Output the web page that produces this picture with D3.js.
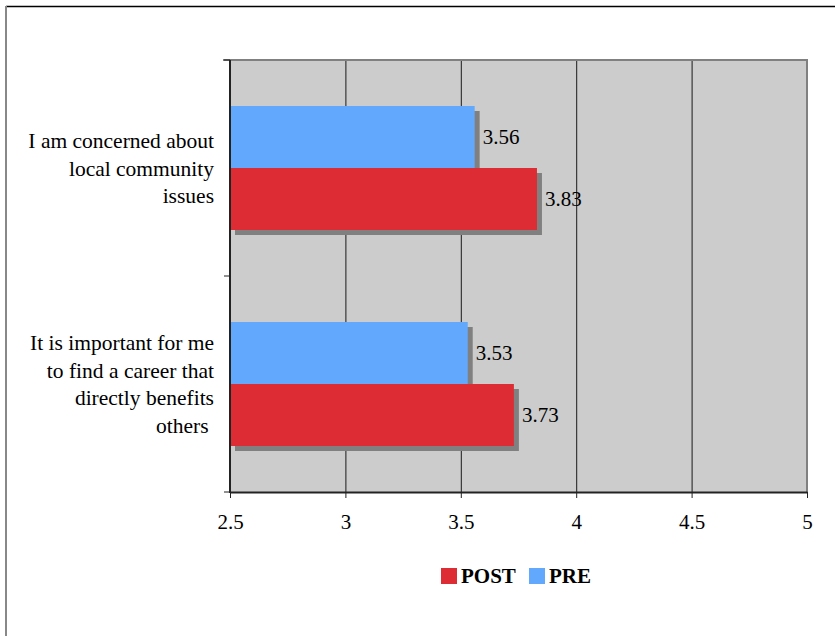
<!DOCTYPE html>
<html>
<head>
<meta charset="utf-8">
<script src="https://cdn.jsdelivr.net/npm/d3@7/dist/d3.min.js"></script>
</head>
<body style="margin:0">
<svg id="chart" width="835" height="636"></svg>
<script>
// Statement labels, one entry per line of text
const categories = [
  ["I am concerned about", "local community", "issues"],
  ["It is important for me", "to find a career that", "directly benefits", "others "]
];
const seriesNames = ["PRE", "POST"];
const preValues = [3.56, 3.53];
const postValues = [3.83, 3.73];
const xTicks = [2.5, 3, 3.5, 4, 4.5, 5];
const legendOrder = ["POST", "PRE"];

const colors = { PRE: "#62a9fd", POST: "#dd2c33" };
const seriesValues = { PRE: preValues, POST: postValues };
const serif = '"Liberation Serif"';

const svg = d3.select("#chart");

// Outer frame edges
svg.append("line").attr("x1", 6).attr("x2", 835).attr("y1", 6.5).attr("y2", 6.5)
  .attr("stroke", "#000").attr("stroke-width", 1.5);
svg.append("line").attr("x1", 6).attr("x2", 6).attr("y1", 6).attr("y2", 636)
  .attr("stroke", "#888").attr("stroke-width", 2);

const plot = { left: 230, right: 807, top: 60, bottom: 492 };

const x = d3.scaleLinear().domain([2.5, 5]).range([plot.left, plot.right]);
const y = d3.scaleBand().domain(d3.range(categories.length)).range([plot.top, plot.bottom]);
// Two bars per category, centred in the band
const barH = 62;
const ySeries = d3.scaleBand().domain(seriesNames)
  .range([(y.bandwidth() - 2 * barH) / 2, (y.bandwidth() + 2 * barH) / 2]);

// Plot background
svg.append("rect")
  .attr("x", plot.left).attr("y", plot.top)
  .attr("width", plot.right - plot.left).attr("height", plot.bottom - plot.top)
  .attr("fill", "#cccccc");

// Vertical gridlines
svg.append("g").selectAll("line")
  .data(xTicks.filter(t => t > 2.5 && t < 5))
  .join("line")
  .attr("x1", d => x(d) + 0.5).attr("x2", d => x(d) + 0.5)
  .attr("y1", plot.top).attr("y2", plot.bottom)
  .attr("stroke", "#1a1a1a").attr("stroke-width", 1);

// Top and right plot edges
svg.append("line").attr("x1", plot.left - 7).attr("x2", plot.right + 1)
  .attr("y1", plot.top).attr("y2", plot.top)
  .attr("stroke", "#808080").attr("stroke-width", 2);
svg.append("line").attr("x1", plot.right).attr("x2", plot.right)
  .attr("y1", plot.top).attr("y2", plot.bottom)
  .attr("stroke", "#808080").attr("stroke-width", 2);

// Bars with drop shadows
const barData = [];
categories.forEach((c, i) => {
  seriesNames.forEach(s => barData.push({ i, s, v: seriesValues[s][i] }));
});

const shadowOffset = 5;
svg.append("g").selectAll("rect")
  .data(barData)
  .join("rect")
  .attr("x", x(2.5) + shadowOffset)
  .attr("y", d => y(d.i) + ySeries(d.s) + shadowOffset)
  .attr("width", d => x(d.v) - x(2.5))
  .attr("height", ySeries.bandwidth())
  .attr("fill", "#808080");

svg.append("g").selectAll("rect")
  .data(barData)
  .join("rect")
  .attr("x", x(2.5))
  .attr("y", d => y(d.i) + ySeries(d.s))
  .attr("width", d => x(d.v) - x(2.5))
  .attr("height", ySeries.bandwidth())
  .attr("fill", d => colors[d.s]);

// Value labels
svg.append("g").selectAll("text")
  .data(barData)
  .join("text")
  .attr("x", d => x(d.v) + 8)
  .attr("y", d => y(d.i) + ySeries(d.s) + ySeries.bandwidth() / 2)
  .attr("dy", "0.35em")
  .style("font-family", serif)
  .style("font-size", "21px")
  .style("fill", "#000")
  .text(d => d.v.toFixed(2));

// X axis
const xAxis = d3.axisBottom(x).tickValues(xTicks).tickSize(6).tickSizeOuter(0)
  .tickFormat(d => String(d));
const gx = svg.append("g").attr("transform", `translate(0,${plot.bottom})`).call(xAxis);
gx.attr("font-family", null).attr("font-size", null);
gx.select(".domain").attr("stroke", "#222").attr("stroke-width", 2);
gx.selectAll(".tick line").attr("stroke", "#222");
gx.selectAll(".tick text")
  .style("font-family", serif)
  .style("font-size", "21px").style("fill", "#000").attr("dy", "0").attr("y", 37);

// Y axis: left edge with ticks at band boundaries
svg.append("line").attr("x1", plot.left).attr("x2", plot.left)
  .attr("y1", plot.top).attr("y2", plot.bottom + 1)
  .attr("stroke", "#222").attr("stroke-width", 2);
const boundaries = d3.range(categories.length + 1).map(i => plot.top + i * y.step());
svg.append("g").selectAll("line")
  .data(boundaries)
  .join("line")
  .attr("x1", plot.left - 6).attr("x2", plot.left)
  .attr("y1", d => d).attr("y2", d => d)
  .attr("stroke", "#222").attr("stroke-width", 1);

// Category labels
const lineH = 27.5;
const catG = svg.append("g");
categories.forEach((lines, i) => {
  const cy = y(i) + y.bandwidth() / 2;
  const t = catG.append("text")
    .attr("x", 214)
    .attr("text-anchor", "end")
    .style("font-family", serif)
    .style("font-size", "21.5px")
    .style("white-space", "pre")
    .style("fill", "#000");
  lines.forEach((ln, k) => {
    t.append("tspan")
      .attr("x", 214)
      .attr("y", cy + (k - (lines.length - 1) / 2) * lineH)
      .attr("dy", "0.35em")
      .text(ln);
  });
});

// Legend
const legend = svg.append("g");
const legendX = [441, 529];
legendOrder.forEach((s, k) => {
  legend.append("rect")
    .attr("x", legendX[k]).attr("y", 568)
    .attr("width", 16).attr("height", 16)
    .attr("fill", colors[s]);
  legend.append("text")
    .attr("x", legendX[k] + 20).attr("y", 576)
    .attr("dy", "0.35em")
    .style("font-family", serif)
    .style("font-size", "21px").style("font-weight", "bold")
    .style("fill", "#000")
    .text(s);
});
</script>
</body>
</html>
